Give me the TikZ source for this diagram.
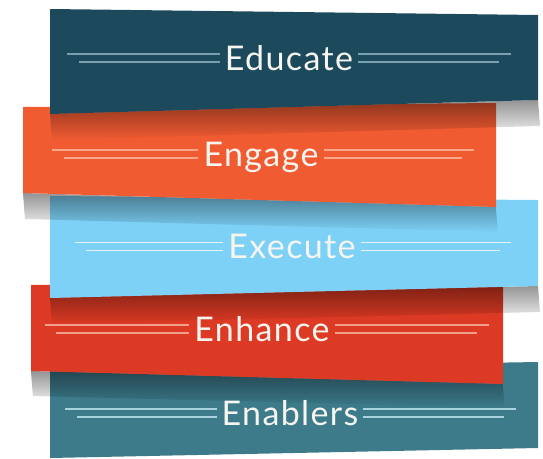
\documentclass[tikz,border=0pt]{standalone}
\usepackage{fontspec}
\setmainfont{Lato}
\newfontfamily\wordfont[LetterSpace=4]{Lato}
\usetikzlibrary{fadings}

\definecolor{educcol}{HTML}{1C4A5C}
\definecolor{engcol}{HTML}{F15B32}
\definecolor{execcol}{HTML}{7DD1F6}
\definecolor{enhcol}{HTML}{DC3A24}
\definecolor{enablcol}{HTML}{3D7B8B}
\definecolor{educline}{HTML}{7AA0B0}
\definecolor{engline}{HTML}{F9A88A}
\definecolor{execline}{HTML}{E6F6FD}
\definecolor{enhline}{HTML}{F2A08C}
\definecolor{enablline}{HTML}{A9D4DF}
\definecolor{wordcol}{HTML}{F6F5EF}

\tikzfading[name=shadowfade, top color=transparent!58, bottom color=transparent!100]

\tikzset{
  word/.style={text=wordcol, font=\wordfont\fontsize{34}{34}\selectfont,
    text height=24.4pt, text depth=0pt, inner ysep=0pt, inner xsep=5pt},
  rule/.style={line width=1.2pt},
  bandshadow/.style={fill=black, path fading=shadowfade},
}

\begin{document}
\begin{tikzpicture}[x=1pt, y=-1pt]
\useasboundingbox (0,0) rectangle (543,458);

% bands, bottom one first
\fill[enablcol] (50,370) -- (538,362) -- (538,448) -- (50,458) -- cycle;
\fill[bandshadow] (31,371) -- (503,384) -- (505,408) -- (33,396) -- cycle;
\fill[enhcol] (31,285) -- (503,282) -- (503,384) -- (31,371) -- cycle;
\fill[bandshadow] (50,298) -- (538,286) -- (540,312) -- (52,324) -- cycle;
\fill[execcol] (50,196) -- (538,200) -- (538,286) -- (50,298) -- cycle;
\fill[bandshadow] (23,193) -- (496,207) -- (498,232) -- (25,219) -- cycle;
\fill[engcol] (23,107) -- (496,103) -- (496,207) -- (23,193) -- cycle;
\fill[bandshadow] (50,114) -- (538,100) -- (540,126) -- (52,140) -- cycle;
\fill[educcol] (50,9) -- (538,15) -- (538,100) -- (50,114) -- cycle;

\node[word] (educ) at (289,58) {Educate};
\node[word] (eng) at (261,154) {Engage};
\node[word] (exec) at (292,246.5) {Execute};
\node[word] (enh) at (262,329) {Enhance};
\node[word] (enabl) at (290,413) {Enablers};

\coordinate (educ-lu) at (67,54);
\coordinate (educ-ll) at (79,62);
\coordinate (educ-ru) at (511,54);
\coordinate (educ-rl) at (499,62);
\coordinate (eng-lu) at (52,150);
\coordinate (eng-ll) at (64,158);
\coordinate (eng-ru) at (474,150);
\coordinate (eng-rl) at (462,158);
\coordinate (exec-lu) at (75,242.5);
\coordinate (exec-ll) at (86,250.5);
\coordinate (exec-ru) at (511,242.5);
\coordinate (exec-rl) at (500,250.5);
\coordinate (enh-lu) at (45,325);
\coordinate (enh-ll) at (56,333);
\coordinate (enh-ru) at (489,325);
\coordinate (enh-rl) at (477,333);
\coordinate (enabl-lu) at (65,409);
\coordinate (enabl-ll) at (77,417);
\coordinate (enabl-ru) at (516,409);
\coordinate (enabl-rl) at (504,417);

\draw[rule, educline] (educ-lu) -- (educ-lu -| educ.west);
\draw[rule, educline] (educ-ll) -- (educ-ll -| educ.west);
\draw[rule, educline] (educ-ru) -- (educ-ru -| educ.east);
\draw[rule, educline] (educ-rl) -- (educ-rl -| educ.east);
\draw[rule, engline] (eng-lu) -- (eng-lu -| eng.west);
\draw[rule, engline] (eng-ll) -- (eng-ll -| eng.west);
\draw[rule, engline] (eng-ru) -- (eng-ru -| eng.east);
\draw[rule, engline] (eng-rl) -- (eng-rl -| eng.east);
\draw[rule, execline] (exec-lu) -- (exec-lu -| exec.west);
\draw[rule, execline] (exec-ll) -- (exec-ll -| exec.west);
\draw[rule, execline] (exec-ru) -- (exec-ru -| exec.east);
\draw[rule, execline] (exec-rl) -- (exec-rl -| exec.east);
\draw[rule, enhline] (enh-lu) -- (enh-lu -| enh.west);
\draw[rule, enhline] (enh-ll) -- (enh-ll -| enh.west);
\draw[rule, enhline] (enh-ru) -- (enh-ru -| enh.east);
\draw[rule, enhline] (enh-rl) -- (enh-rl -| enh.east);
\draw[rule, enablline] (enabl-lu) -- (enabl-lu -| enabl.west);
\draw[rule, enablline] (enabl-ll) -- (enabl-ll -| enabl.west);
\draw[rule, enablline] (enabl-ru) -- (enabl-ru -| enabl.east);
\draw[rule, enablline] (enabl-rl) -- (enabl-rl -| enabl.east);

\end{tikzpicture}
\end{document}
